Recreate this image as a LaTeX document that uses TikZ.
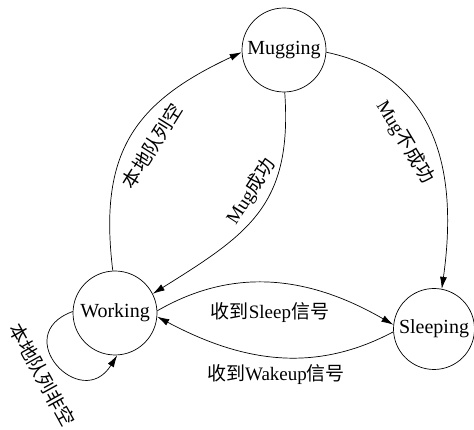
\documentclass[tikz,border=0pt]{standalone}
\usepackage{fontspec}
\setmainfont{Liberation Serif}
\newfontfamily\cjk{Noto Sans CJK SC}
\usetikzlibrary{arrows.meta}
\newcommand{\zh}[1]{{\cjk #1}}
\begin{document}
\begin{tikzpicture}[x=1pt,y=1pt,
  state/.style={circle,draw,line width=0.7pt,inner sep=0pt,minimum size=84pt,font=\fontsize{20}{24}\selectfont},
  conn/.style={line width=0.7pt,-{Latex[length=12pt,width=7pt]}},
  lbl/.style={font=\fontsize{19}{22}\selectfont,inner sep=0pt}]
\useasboundingbox (0,0) rectangle (474,430);
\node[state] (mug) at (284,380) {Mugging};
\node[state] (work) at (115,117) {Working};
\node[state,minimum size=81pt] (sleep) at (434,101) {Sleeping};
% edges
\draw[conn] (work.93) to[out=97,in=205,looseness=1.2] (mug.183);
\draw[conn] (mug.-89) to[out=-86,in=32,looseness=1.2] (work.27);
\draw[conn] (mug.-3) to[out=-12,in=82,looseness=1.12] (sleep.79);
\draw[conn] (work.3) to[out=30,in=150] (sleep.174);
\draw[conn] (sleep.184) to[out=208,in=332] (work.-5);
\draw[conn] (work.178) to[out=200,in=238,looseness=2.8] (work.-87);
% labels
\node[lbl,rotate=58] (l1) at (152,284) {\zh{本地队列空}};
\node[lbl,rotate=57] (l4) at (251,239) {Mug\zh{成功}};
\node[lbl,rotate=-59] (l3) at (405,288) {Mug\zh{不成功}};
\node[lbl,rotate=-61] (l2) at (42,55) {\zh{本地队列非空}};
\node[lbl] (l5) at (270,117) {\zh{收到}Sleep\zh{信号}};
\node[lbl] (l6) at (276,55) {\zh{收到}Wakeup\zh{信号}};
\end{tikzpicture}
\end{document}
